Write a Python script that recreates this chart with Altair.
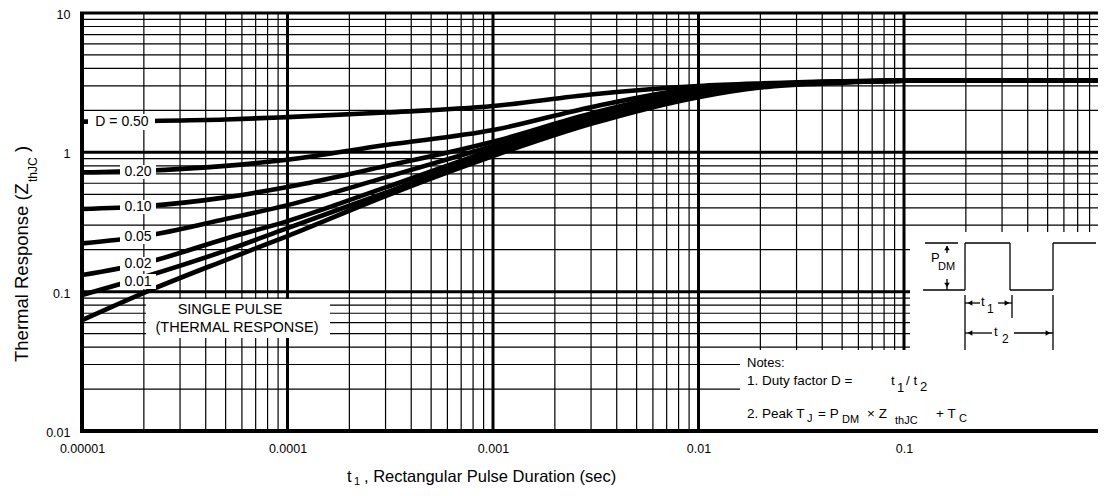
import altair as alt
import pandas as pd

# ---------------- data ----------------
T_SEC = [1e-5, 2e-5, 5e-5, 1e-4, 3e-4, 1e-3, 3e-3, 1e-2, 2e-2, 5e-2, 0.1, 1.0]
Z_D050 = [1.66, 1.68, 1.72, 1.79, 1.93, 2.15, 2.60, 2.99, 3.12, 3.24, 3.27, 3.28]
Z_D020 = [0.719, 0.738, 0.80, 0.885, 1.128, 1.445, 2.11, 2.89, 3.08, 3.22, 3.26, 3.28]
Z_D010 = [0.392, 0.41, 0.475, 0.564, 0.797, 1.192, 1.90, 2.80, 3.05, 3.21, 3.26, 3.28]
Z_D005 = [0.222, 0.250, 0.332, 0.418, 0.661, 1.11, 1.83, 2.73, 3.02, 3.20, 3.26, 3.28]
Z_D002 = [0.1316, 0.160, 0.24, 0.321, 0.56, 1.039, 1.75, 2.67, 3.00, 3.19, 3.26, 3.28]
Z_D001 = [0.0945, 0.1273, 0.197, 0.286, 0.514, 0.989, 1.68, 2.60, 2.97, 3.18, 3.26, 3.28]
Z_SINGLE = [0.0625, 0.0982, 0.1686, 0.2507, 0.486, 0.94, 1.60, 2.49, 2.92, 3.16, 3.26, 3.28]

SERIES = ["D = 0.50", "0.20", "0.10", "0.05", "0.02", "0.01", "Single pulse"]
SERIES_Z = [Z_D050, Z_D020, Z_D010, Z_D005, Z_D002, Z_D001, Z_SINGLE]

X_TICKS = [1e-5, 1e-4, 1e-3, 1e-2, 1e-1]
Y_TICKS = [0.01, 0.1, 1, 10]

# ---------------- layout ----------------
W, H = 1016, 418
OX, OY = 82, 13          # page position of the plot origin
RIGHT = OX + W
XMAX = 10 ** (-5 + W / 205.5)
FONT = "Liberation Sans"

xs = alt.Scale(type="log", domain=[1e-5, XMAX], nice=False)
ys = alt.Scale(type="log", domain=[0.01, 10], nice=False)

rows = []
for name, zs in zip(SERIES, SERIES_Z):
    for t, z in zip(T_SEC, zs):
        rows.append({"series": name, "t": t, "z": z})
curves_df = pd.DataFrame(rows)

# grid lines
vx_minor = [m * 10 ** e for e in range(-5, 0) for m in range(2, 10)]
vx_major = [1e-4, 1e-3, 1e-2, 1e-1]
hy_minor = [m * 10 ** e for e in range(-2, 1) for m in range(2, 10)]
hy_major = [0.1, 1.0]


def vgrid(vals, w):
    return alt.Chart(pd.DataFrame({"t": vals})).mark_rule(color="black", strokeWidth=w).encode(
        x=alt.X("t:Q", scale=xs, axis=None))


def hgrid(vals, w):
    return alt.Chart(pd.DataFrame({"z": vals})).mark_rule(color="black", strokeWidth=w).encode(
        y=alt.Y("z:Q", scale=ys, axis=None))


def boxes(rects):
    df = pd.DataFrame(rects, columns=["x1", "y1", "x2", "y2"])
    df[["x1", "x2"]] -= OX
    df[["y1", "y2"]] -= OY
    return alt.Chart(df).mark_rect(color="white").encode(
        x=alt.X("x1:Q", scale=None, axis=None), x2="x2:Q",
        y=alt.Y("y1:Q", scale=None, axis=None), y2="y2:Q")


def segs(lines, w=1.3):
    df = pd.DataFrame(lines, columns=["x1", "y1", "x2", "y2"])
    df[["x1", "x2"]] -= OX
    df[["y1", "y2"]] -= OY
    return alt.Chart(df).mark_rule(color="black", strokeWidth=w).encode(
        x=alt.X("x1:Q", scale=None, axis=None), x2="x2:Q",
        y=alt.Y("y1:Q", scale=None, axis=None), y2="y2:Q")


def texts(items, align="left", angle=0):
    df = pd.DataFrame(items, columns=["x", "y", "text", "fs"])
    df["x"] -= OX
    df["y"] -= OY
    kw = dict(align=align, baseline="middle", font=FONT, color="black")
    if angle:
        kw["angle"] = angle
    return alt.Chart(df).mark_text(**kw).encode(
        x=alt.X("x:Q", scale=None, axis=None), y=alt.Y("y:Q", scale=None, axis=None),
        text="text:N", size=alt.Size("fs:Q", scale=None, legend=None))


def heads(items):
    df = pd.DataFrame(items, columns=["x", "y", "shape"])
    df["x"] -= OX
    df["y"] -= OY
    return alt.Chart(df).mark_point(filled=True, color="black", size=30, opacity=1).encode(
        x=alt.X("x:Q", scale=None, axis=None), y=alt.Y("y:Q", scale=None, axis=None),
        shape=alt.Shape("shape:N", scale=None, legend=None))


grid = [vgrid(vx_minor, 1.2), hgrid(hy_minor, 1.2), vgrid(vx_major, 3), hgrid(hy_major, 3)]

# white areas of the sheet (single pulse legend, pulse sketch, notes)
white_areas = boxes([
    (146, 299, 330, 338),
    (910, 232, RIGHT, 350),
    (740, 350, RIGHT, 429),
])

curves = alt.Chart(curves_df).mark_line(color="black", strokeWidth=4.6, interpolate="monotone", clip=True).encode(
    x=alt.X("t:Q", scale=xs, axis=alt.Axis(
        values=X_TICKS, format=".5~f", grid=False, ticks=False, domain=False, title=None,
        labelFont=FONT, labelFontSize=12.5, labelColor="black", labelPadding=11,
        labelFlush=False, labelOverlap=False, labelBound=False)),
    y=alt.Y("z:Q", scale=ys, axis=alt.Axis(
        values=Y_TICKS, format=".2~f", grid=False, ticks=False, domain=False, title=None,
        labelFont=FONT, labelFontSize=12.5, labelColor="black", labelPadding=12, labelOffset=1.5,
        labelFlush=False, labelOverlap=False, labelBound=False)),
    detail="series:N",
)

label_boxes = boxes([
    (88, 114, 155, 130),
    (120, 165, 156, 179),
    (120, 200, 156, 214),
    (120, 230, 156, 244),
    (120, 257, 156, 271),
    (120, 274, 156, 289),
])

curve_labels = texts([
    (122, 122, "D = 0.50", 14),
    (138, 172, "0.20", 14),
    (138, 207, "0.10", 14),
    (138, 237, "0.05", 14),
    (138, 264, "0.02", 14),
    (138, 282, "0.01", 14),
    (230, 310, "SINGLE PULSE", 14.5),
    (237, 328, "(THERMAL RESPONSE)", 14.5),
], align="center")

frame = segs([
    (OX, OY, OX, OY + H),
    (OX - 2, OY + H, RIGHT, OY + H),
], w=4)
frame_top = segs([(OX - 2, OY, RIGHT, OY)], w=3)

# pulse sketch
sketch = segs([
    (923, 290, 965, 290), (925, 243, 958, 243),
    (965, 243, 965, 290), (965, 243, 1010, 243), (1010, 243, 1010, 290),
    (1010, 290, 1053, 290), (1053, 290, 1053, 243), (1053, 243, 1096, 243),
    (947, 246, 947, 253), (947, 279, 947, 290),
    (965, 295, 965, 350), (1012, 295, 1012, 318), (1053, 295, 1053, 350),
    (965, 303, 980, 303), (998, 303, 1012, 303),
    (965, 333, 992, 333), (1014, 333, 1053, 333),
], w=1.3)
sketch_heads = heads([
    (947, 248, "triangle-up"), (947, 285, "triangle-down"),
    (970, 303, "triangle-left"), (1007, 303, "triangle-right"),
    (970, 333, "triangle-left"), (1048, 333, "triangle-right"),
])
sketch_text = texts([
    (931, 258, "P", 13), (938, 267, "DM", 11),
    (981, 302, "t", 13), (987, 309, "1", 12),
    (994, 332, "t", 13), (1002, 339, "2", 12),
])

notes_text = texts([
    (747, 363, "Notes:", 13),
    (747, 381, "1. Duty factor D =", 13.5),
    (891, 381, "t", 13.5), (897, 388, "1", 13),
    (906, 381, "/ t", 13.5), (920, 387, "2", 13),
    (747, 414, "2. Peak T", 13.5), (807, 419, "J", 11),
    (818, 414, "= P", 13.5), (842, 420, "DM", 11),
    (867, 414, "× Z", 13.5), (895, 421, "thJC", 11),
    (936, 414, "+ T", 13.5), (959, 419, "C", 11),
])

x_title = texts([
    (347, 477, "t", 16.5), (354, 482, "1", 11),
    (364, 477, " , Rectangular Pulse Duration (sec)", 16.5),
])

y_title = texts([
    (22, 362, "Thermal Response (Z", 18.5),
    (33, 182, "thJC", 12),
    (22, 152, " )", 18.5),
], angle=270)

chart = alt.layer(
    *grid, white_areas, curves, label_boxes, curve_labels,
    sketch, sketch_heads, sketch_text, notes_text, x_title, y_title,
    frame, frame_top,
).resolve_scale(x="independent", y="independent").properties(
    width=W, height=H,
    autosize=alt.AutoSizeParams(type="none"),
    padding={"left": OX - 8, "top": OY - 8, "right": 0, "bottom": 57},
).configure_view(stroke=None)

chart.save("out.html", embed_options={"renderer": "svg", "actions": False})
